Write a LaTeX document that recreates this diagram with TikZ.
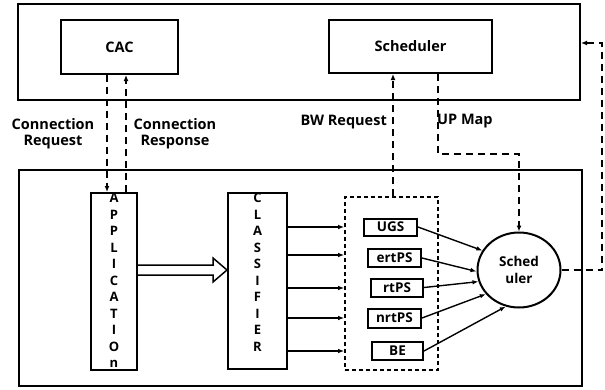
\documentclass[tikz,border=0pt]{standalone}
\usepackage{fontspec}
\setmainfont{Open Sans}
\usetikzlibrary{arrows.meta,shapes.geometric,calc}
\begin{document}
\begin{tikzpicture}[x=1pt,y=-1pt,
  every node/.style={inner sep=0pt},
  box/.style={draw,line width=2pt,rectangle},
  small/.style={draw,line width=2pt,rectangle,font=\bfseries\fontsize{13.5}{15}\selectfont},
  lbl/.style={font=\bfseries\fontsize{14.5}{16}\selectfont,align=center},
  vtext/.style={font=\bfseries\fontsize{13}{16.5}\selectfont,align=center,anchor=north},
  dsh/.style={line width=2pt,dash pattern=on 7pt off 5pt},
  tip/.style={-{Latex[length=6pt,width=5pt]}},
  arr/.style={line width=1.4pt,-{Latex[length=6pt,width=4.5pt]}}]
\useasboundingbox (0,0) rectangle (605,389);
% outer boxes
\node[box,minimum width=562pt,minimum height=96pt] (top) at (299,52) {};
\node[box,minimum width=563pt,minimum height=216pt] (bot) at (300.5,278) {};
% top boxes
\node[box,minimum width=117pt,minimum height=54pt,font=\bfseries\fontsize{14.5}{16}\selectfont] (cac) at (119.5,47) {CAC};
\node[box,minimum width=163pt,minimum height=53pt,font=\bfseries\fontsize{14.5}{16}\selectfont] (sch) at (410.5,46.5) {Scheduler};
% application and classifier
\node[box,minimum width=46pt,minimum height=177pt] (app) at (114,281.5) {};
\node[vtext] (apptxt) at ($(app.north)+(0,1)$) {A\\P\\P\\L\\I\\C\\A\\T\\I\\O\\n};
\node[box,minimum width=59pt,minimum height=176pt] (cls) at (257.5,281) {};
\node[vtext] (clstxt) at ($(cls.north)+(0,1)$) {C\\L\\A\\S\\S\\I\\F\\I\\E\\R};
% hollow arrow
\draw[line width=1.5pt,line join=miter,fill=white] (app.east |- 0,265) -- (213,265) -- (213,258) -- (cls.west |- 0,270) -- (213,282) -- (213,275) -- (app.east |- 0,275);
% group
\node[draw,line width=1.6pt,dash pattern=on 4pt off 3pt,minimum width=93pt,minimum height=173pt] (grp) at (391.5,283.5) {};
\node[small,minimum width=53pt,minimum height=17pt] (ugs) at (390.5,227) {UGS};
\node[small,minimum width=53pt,minimum height=18pt] (ert) at (394.5,258) {ertPS};
\node[small,minimum width=52pt,minimum height=18pt] (rt) at (397,287.5) {rtPS};
\node[small,minimum width=53pt,minimum height=19pt] (nrt) at (394.5,318) {nrtPS};
\node[small,minimum width=51pt,minimum height=18pt] (be) at (397.5,351) {BE};
\node[ellipse,draw,line width=2pt,minimum width=83pt,minimum height=75pt,align=center,font=\bfseries\fontsize{13.5}{17}\selectfont] (circ) at (519,270) {Sched\\uler};
% classifier outputs
\foreach \yy in {227,255,288,318,351}
  \draw[arr] (cls.east |- 0,\yy) -- (grp.west |- 0,\yy);
% queue to scheduler
\draw[arr] (ugs.east) -- (circ.152);
\draw[arr] (ert.east) -- (circ.182);
\draw[arr] (rt.east) -- (circ.196);
\draw[arr] (nrt.east) -- (circ.216);
\draw[arr] (be.east) -- (circ.250);
% dashed connections
\draw[dsh,tip] (cac.south -| 107,0) -- (app.north -| 107,0);
\draw[dsh,tip] (app.north -| 126,0) -- (cac.south -| 126,0);
\draw[dsh,tip] (grp.north -| 393,0) -- (sch.south -| 393,0);
\draw[dsh,tip] (sch.south -| 438,0) -- (438,154) -- (519,154) -- (circ.north);
\coordinate (fb) at (602,270);
\draw[dsh,tip] (circ.east) -- (fb) -- (fb |- 0,43) -- (top.east |- 0,43);
% labels
\node[lbl] (creq) at (53,134) {Connection\\Request};
\node[lbl] (cres) at (175,134) {Connection\\Response};
\node[lbl,anchor=east] (bwr) at (387,122) {BW Request};
\node[lbl,anchor=west] (upm) at (437,121) {UP Map};
\end{tikzpicture}
\end{document}
